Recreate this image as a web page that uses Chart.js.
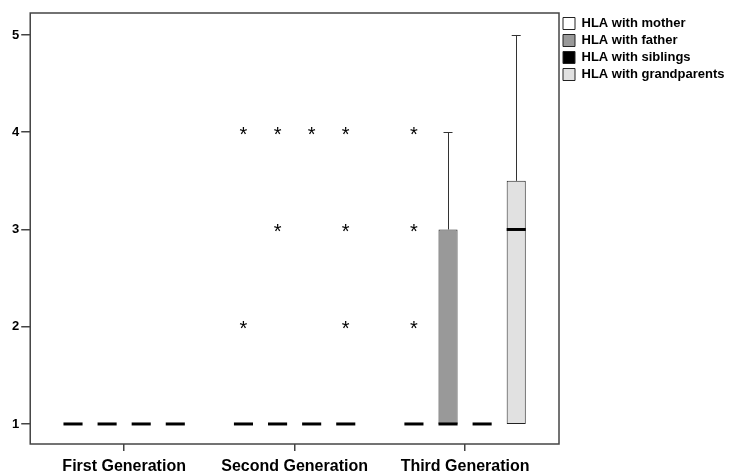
<!DOCTYPE html>
<html>
<head>
<meta charset="utf-8">
<script src="https://cdn.jsdelivr.net/npm/chart.js@4/dist/chart.umd.min.js"></script>
<style>
  html, body { margin: 0; padding: 0; background: #ffffff; }
  #wrap { position: relative; width: 730px; height: 474px; }
</style>
</head>
<body>
<div id="wrap"><canvas id="c" width="730" height="474"></canvas></div>
<script>
// ---- data ----
const categories = ['First Generation', 'Second Generation', 'Third Generation'];
const seriesNames = ['HLA with mother', 'HLA with father', 'HLA with siblings', 'HLA with grandparents'];
const yTicks = [1, 2, 3, 4, 5];

const motherQ1 = [1, 1, 1];
const motherQ3 = [1, 1, 1];
const motherMedian = [1, 1, 1];
const motherWhiskerLow = [1, 1, 1];
const motherWhiskerHigh = [1, 1, 1];
const motherOutliers = [[], [2, 4], [2, 3, 4]];

const fatherQ1 = [1, 1, 1];
const fatherQ3 = [1, 1, 3];
const fatherMedian = [1, 1, 1];
const fatherWhiskerLow = [1, 1, 1];
const fatherWhiskerHigh = [1, 1, 4];
const fatherOutliers = [[], [3, 4], []];

const siblingsQ1 = [1, 1, 1];
const siblingsQ3 = [1, 1, 1];
const siblingsMedian = [1, 1, 1];
const siblingsWhiskerLow = [1, 1, 1];
const siblingsWhiskerHigh = [1, 1, 1];
const siblingsOutliers = [[], [4], []];

const grandQ1 = [1, 1, 1];
const grandQ3 = [1, 1, 3.5];
const grandMedian = [1, 1, 3];
const grandWhiskerLow = [1, 1, 1];
const grandWhiskerHigh = [1, 1, 5];
const grandOutliers = [[], [2, 3, 4], []];

// ---- styling ----
const FONT = '"Liberation Sans", Arial, Helvetica, sans-serif';
const fills = ['#ffffff', '#999999', '#000000', '#e1e1e1'];
const AXIS = '#444444';

const stats = [
  {q1: motherQ1, q3: motherQ3, med: motherMedian, lo: motherWhiskerLow, hi: motherWhiskerHigh, out: motherOutliers},
  {q1: fatherQ1, q3: fatherQ3, med: fatherMedian, lo: fatherWhiskerLow, hi: fatherWhiskerHigh, out: fatherOutliers},
  {q1: siblingsQ1, q3: siblingsQ3, med: siblingsMedian, lo: siblingsWhiskerLow, hi: siblingsWhiskerHigh, out: siblingsOutliers},
  {q1: grandQ1, q3: grandQ3, med: grandMedian, lo: grandWhiskerLow, hi: grandWhiskerHigh, out: grandOutliers}
];

const datasets = seriesNames.map((name, s) => ({
  label: name,
  data: categories.map((c, j) => ({x: j, y: [stats[s].q1[j], stats[s].q3[j]]})),
  backgroundColor: fills[s],
  borderColor: '#222222',
  borderWidth: 1,
  borderSkipped: false,
  categoryPercentage: 0.8,
  barPercentage: 0.56
}));

const boxPlugin = {
  id: 'boxParts',
  afterDatasetsDraw(chart) {
    const ctx = chart.ctx;
    const y = chart.scales.y;
    const area = chart.chartArea;
    ctx.save();
    stats.forEach((st, s) => {
      const meta = chart.getDatasetMeta(s);
      meta.data.forEach((bar, j) => {
        const x = bar.x;
        const w = bar.width;
        // whiskers
        ctx.strokeStyle = '#333333';
        ctx.lineWidth = 1;
        const cap = 4.5;
        if (st.hi[j] > st.q3[j]) {
          const y1 = y.getPixelForValue(st.q3[j]);
          const y2 = y.getPixelForValue(st.hi[j]);
          ctx.beginPath();
          ctx.moveTo(Math.round(x) + 0.5, y1);
          ctx.lineTo(Math.round(x) + 0.5, y2);
          ctx.moveTo(x - cap, Math.round(y2) + 0.5);
          ctx.lineTo(x + cap, Math.round(y2) + 0.5);
          ctx.stroke();
        }
        if (st.lo[j] < st.q1[j]) {
          const y1 = y.getPixelForValue(st.q1[j]);
          const y2 = y.getPixelForValue(st.lo[j]);
          ctx.beginPath();
          ctx.moveTo(Math.round(x) + 0.5, y1);
          ctx.lineTo(Math.round(x) + 0.5, y2);
          ctx.moveTo(x - cap, Math.round(y2) + 0.5);
          ctx.lineTo(x + cap, Math.round(y2) + 0.5);
          ctx.stroke();
        }
        // median
        ctx.strokeStyle = '#000000';
        ctx.lineWidth = 3;
        const ym = y.getPixelForValue(st.med[j]);
        ctx.beginPath();
        ctx.moveTo(x - w / 2, ym);
        ctx.lineTo(x + w / 2, ym);
        ctx.stroke();
        // outliers / extremes
        const fs = 20;
        ctx.font = 'normal ' + fs + 'px ' + FONT;
        ctx.fillStyle = '#000000';
        ctx.textAlign = 'center';
        ctx.textBaseline = 'alphabetic';
        st.out[j].forEach(v => {
          const yp = y.getPixelForValue(v);
          ctx.fillText('*', x, yp + fs * 0.42);
        });
      });
    });
    // frame
    ctx.strokeStyle = AXIS;
    ctx.lineWidth = 1.5;
    ctx.strokeRect(area.left, area.top, area.right - area.left, area.bottom - area.top);
    ctx.restore();
  }
};

new Chart(document.getElementById('c'), {
  type: 'bar',
  data: {datasets},
  plugins: [boxPlugin],
  options: {
    responsive: false,
    animation: false,
    layout: {padding: {left: 10, top: 13, right: 0, bottom: 0}},
    plugins: {
      tooltip: {enabled: false},
      legend: {
        position: 'right',
        align: 'start',
        maxWidth: 171,
        labels: {
          color: '#000000',
          font: {family: FONT, size: 13, weight: 'bold'},
          boxWidth: 12,
          boxHeight: 12,
          padding: 4
        }
      }
    },
    scales: {
      x: {
        type: 'linear',
        min: -0.551,
        max: 2.551,
        offset: false,
        grid: {offset: false, drawOnChartArea: false, drawTicks: true, tickLength: 7, color: AXIS, lineWidth: 1.5},
        border: {display: false},
        afterBuildTicks(scale) { scale.ticks = categories.map((c, i) => ({value: i})); },
        afterFit(scale) { scale.height = 30; },
        ticks: {
          includeBounds: false,
          padding: 8,
          maxRotation: 0,
          autoSkip: false,
          color: '#000000',
          font: {family: FONT, size: 16, weight: 'bold', lineHeight: 0.9},
          callback: (v) => categories[v]
        }
      },
      y: {
        type: 'linear',
        min: 0.794,
        max: 5.226,
        grid: {drawOnChartArea: false, drawTicks: true, tickLength: 9, color: AXIS, lineWidth: 1.5},
        border: {display: false},
        afterBuildTicks(scale) { scale.ticks = yTicks.map(v => ({value: v})); },
        ticks: {
          includeBounds: false,
          padding: 2,
          color: '#000000',
          font: {family: FONT, size: 13, weight: 'bold'}
        }
      }
    }
  }
});
</script>
</body>
</html>
